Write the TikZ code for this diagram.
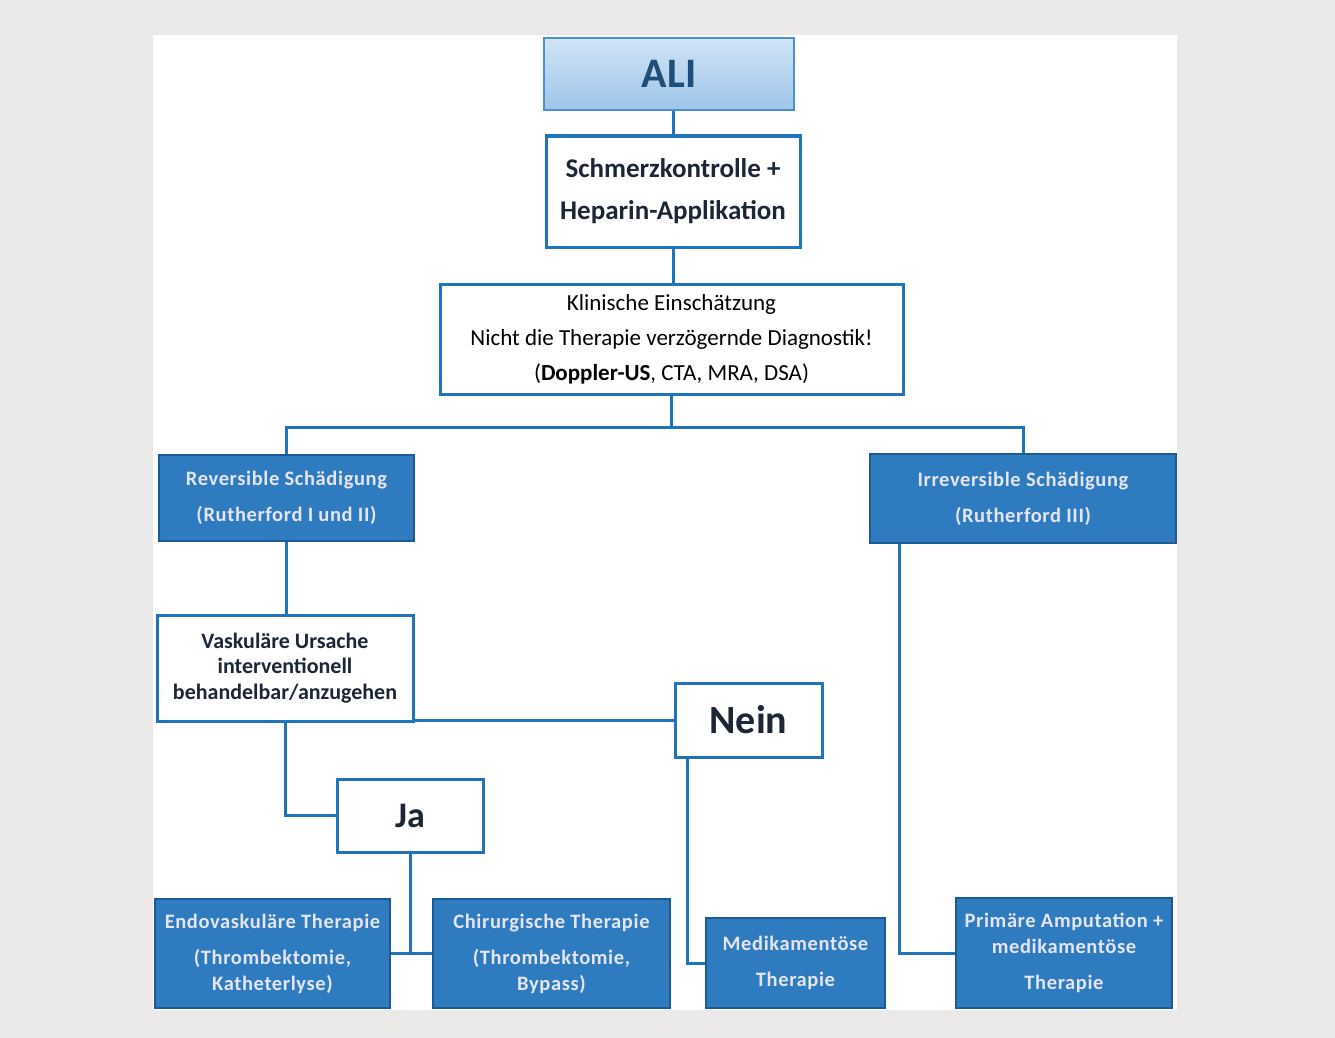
\documentclass[tikz,border=0pt]{standalone}
\usepackage{fontspec}
\setmainfont{Carlito}
\newfontfamily\spaced[LetterSpace=3,BoldFont={Carlito Bold}]{Carlito}
\definecolor{bggrey}{HTML}{EBEAE8}
\definecolor{lineblue}{HTML}{1F74BC}
\definecolor{darkfill}{HTML}{2F7BC0}
\definecolor{darkborder}{HTML}{1B5A92}
\definecolor{lighttext}{HTML}{E4E4F2}
\definecolor{darktext}{HTML}{1C2636}
\definecolor{navy}{HTML}{1F4E79}
\definecolor{aliTop}{HTML}{D0E4F6}
\definecolor{aliBot}{HTML}{9FC5E9}
\definecolor{aliBorder}{HTML}{4C90CF}
\tikzset{
  whitebox/.style={draw=lineblue, line width=3pt, fill=white, inner sep=0pt, align=center, text=darktext},
  darkbox/.style={draw=darkborder, line width=2.5pt, fill=darkfill, inner sep=0pt, align=center, text=lighttext},
  conn/.style={draw=lineblue, line width=3pt},
}
\begin{document}
\begin{tikzpicture}[x=1pt,y=-1pt]
\fill[bggrey] (0,0) rectangle (1335,1038);
\fill[white] (153,35) rectangle (1177,1010);
\useasboundingbox (0,0) rectangle (1335,1038);

% nodes
\node[draw=aliBorder, line width=2pt, top color=aliTop, bottom color=aliBot, minimum width=250pt, minimum height=72pt, inner sep=0pt, text=navy, font=\fontsize{42}{48}\selectfont\bfseries] (ali) at (669,74) {ALI};
\node[whitebox, minimum width=254pt, minimum height=111pt, font=\fontsize{27}{42}\selectfont\bfseries] (schmerz) at (673,191.5) {Schmerzkontrolle +\\Heparin-Applikation};
\node[whitebox, minimum width=463pt, minimum height=110pt, font=\fontsize{23}{35}\selectfont, text=black] (klin) at (671.5,339) {Klinische Einschätzung\\Nicht die Therapie verzögernde Diagnostik!\\(\textbf{Doppler-US}, CTA, MRA, DSA)};
\node[darkbox, minimum width=255pt, minimum height=86pt, font=\spaced\fontsize{20.5}{36}\selectfont\bfseries] (rev) at (286.5,498) {Reversible Schädigung\\(Rutherford I und II)};
\node[darkbox, minimum width=306pt, minimum height=89pt, font=\spaced\fontsize{20.5}{36}\selectfont\bfseries] (irr) at (1023,498.5) {Irreversible Schädigung\\(Rutherford III)};
\node[whitebox, minimum width=256pt, minimum height=106pt, font=\fontsize{22}{25.5}\selectfont\bfseries] (vask) at (285,668) {Vaskuläre Ursache\\interventionell\\behandelbar/anzugehen};
\node[whitebox, minimum width=147pt, minimum height=74pt, font=\fontsize{40}{44}\selectfont\bfseries] (nein) at (748.5,720) {Nein};
\node[whitebox, minimum width=146pt, minimum height=73pt, font=\fontsize{36}{40}\selectfont\bfseries] (ja) at (410,815.5) {Ja};
\node[darkbox, minimum width=235pt, minimum height=109pt, font=\spaced\fontsize{20.5}{26}\selectfont\bfseries] (endo) at (272.5,953.5) {Endovaskuläre Therapie\\[10pt](Thrombektomie,\\Katheterlyse)};
\node[darkbox, minimum width=237pt, minimum height=109pt, font=\spaced\fontsize{20.5}{26}\selectfont\bfseries] (chir) at (551.5,953.5) {Chirurgische Therapie\\[10pt](Thrombektomie,\\Bypass)};
\node[darkbox, minimum width=179pt, minimum height=90pt, font=\spaced\fontsize{20.5}{36}\selectfont\bfseries] (medi) at (795.5,963) {Medikamentöse\\Therapie};
\node[darkbox, minimum width=216pt, minimum height=110pt, font=\spaced\fontsize{20.5}{26}\selectfont\bfseries] (prim) at (1064,953) {Primäre Amputation +\\medikamentöse\\[10pt]Therapie};

% connectors
\draw[conn] (schmerz.north) -- (schmerz.north |- ali.south);
\draw[conn] (schmerz.south) -- (schmerz.south |- klin.north);
\coordinate (split) at (klin.south |- 0,427);
\draw[conn] (klin.south) -- (split);
\draw[conn] (rev.north) |- (split) -| (irr.north);
\draw[conn] (rev.south) -- (rev.south |- vask.north);
\draw[conn] (nein.west) -- (nein.west -| vask.east);
\draw[conn] (vask.south) |- (ja.west);
\coordinate (jb) at (ja.south |- endo.east);
\draw[conn] (ja.south) -- (jb);
\draw[conn] (endo.east) -- (chir.west);
\draw[conn] ([xshift=14pt]nein.south west) |- (medi.west);
\draw[conn] ([xshift=31pt]irr.south west) |- (prim.west);
\end{tikzpicture}
\end{document}
